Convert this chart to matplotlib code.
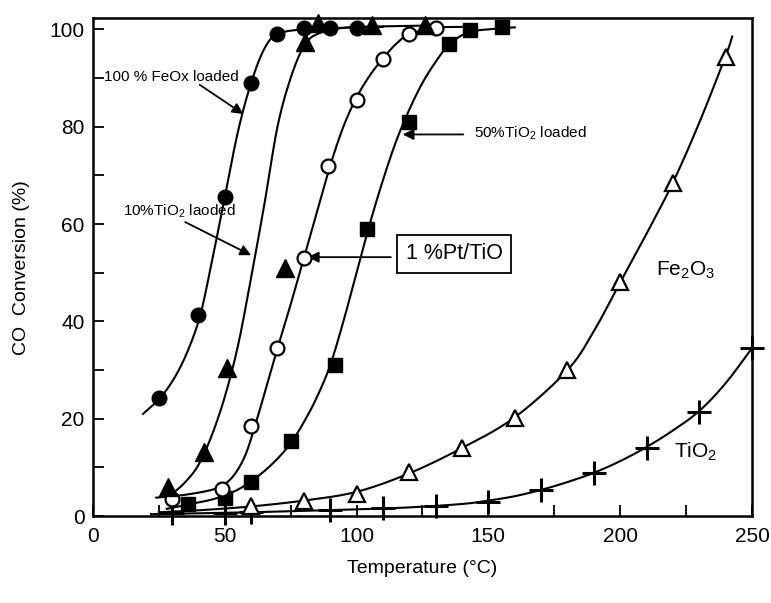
import numpy as np
import matplotlib
matplotlib.use('Agg')
import matplotlib.pyplot as plt
from matplotlib.ticker import MultipleLocator

plt.rcParams['font.family'] = ['Liberation Sans', 'DejaVu Sans']
plt.rcParams['mathtext.fontset'] = 'custom'
plt.rcParams['mathtext.rm'] = 'Liberation Sans'
plt.rcParams['mathtext.it'] = 'Liberation Sans'

# measured points (temperature in C, CO conversion in %)
feox_t = [25, 40, 50, 60, 70, 80, 90, 100]
feox_c = [24.2, 41.3, 65.5, 89, 99, 100.3, 100.2, 100.2]

ti10_t = [28.5, 42, 51, 73, 80.5, 85.5, 106, 126]
ti10_c = [6.0, 13.1, 30.4, 51, 97.4, 101.2, 100.9, 100.9]

pt_t = [30, 49, 60, 70, 80, 89, 100, 110, 120, 130]
pt_c = [3.5, 5.5, 18.5, 34.5, 53, 72, 85.5, 94, 99, 100.3]

ti50_t = [36, 50, 60, 75, 92, 104, 120, 135, 143, 155]
ti50_c = [2.5, 3.8, 7, 15.5, 31, 59, 81, 97, 99.8, 100.4]

fe2o3_t = [60, 80, 100, 120, 140, 160, 180, 200, 220, 240]
fe2o3_c = [2.0, 3.2, 4.6, 9, 14, 20.1, 30, 48.1, 68.4, 94.3]

tio2_t = [30, 50, 60, 90, 110, 130, 150, 170, 190, 210, 230, 250]
tio2_c = [0.6, 0.7, 0.9, 1.2, 1.6, 2.1, 2.9, 5.3, 8.8, 14, 21.4, 34.5]

# hand drawn fitted curves
feox_line_t = [19, 25.5, 31, 36, 40.7, 45, 50, 55, 60, 65, 70, 80, 95, 110]
feox_line_c = [21, 24.3, 28.5, 34, 41.3, 52, 65.5, 79, 89, 96, 99, 100, 100.3, 100.5]

ti10_line_t = [30, 35, 40, 45, 50, 55, 60, 65, 70, 75, 80, 85, 95, 110, 130]
ti10_line_c = [4.5, 7, 10.5, 16.5, 24.5, 35, 49, 64, 80, 90, 96.5, 99, 100.3, 100.6, 100.8]

pt_line_t = [24, 35, 45, 50, 54, 58, 62, 66, 70, 75, 80, 85, 90, 95, 100, 105, 110, 115, 120, 130, 140]
pt_line_c = [3.8, 4.4, 5.4, 6.6, 8.8, 12.8, 19.5, 27, 34.5, 43.5, 53, 62.5, 72, 80, 86, 90.5, 94, 97, 99, 100.3, 100.5]

ti50_line_t = [28, 36, 45, 52, 58, 64, 70, 75, 80, 85, 90, 95, 100, 105, 110, 115, 120, 125, 130, 135, 142, 150, 160]
ti50_line_c = [1.5, 2.4, 3.4, 4.7, 6.4, 8.8, 11.8, 15, 19.3, 24.5, 31, 40, 50, 60, 69, 77, 83.5, 89, 93.3, 96.8, 99.3, 100, 100.4]

fe2o3_line_t = [25, 40, 60, 80, 100, 120, 140, 160, 180, 190, 200, 210, 220, 230, 240, 242.5]
fe2o3_line_c = [0.8, 1.2, 2, 3.2, 5, 8.8, 14, 20.3, 30, 38, 48, 58, 68.5, 80.8, 94.5, 98.5]

tio2_line_t = [22, 40, 60, 80, 100, 120, 140, 150, 160, 170, 180, 190, 200, 210, 220, 230, 240, 250]
tio2_line_c = [0.4, 0.6, 0.8, 1.1, 1.4, 1.8, 2.5, 3.2, 4.1, 5.4, 7, 8.9, 11.3, 14.2, 17.6, 21.6, 27.3, 34.5]


def smooth(xs, ys, n=16):
    # Catmull-Rom spline through the traced curve points, just for drawing
    p = np.column_stack([xs, ys]).astype(float)
    p = np.vstack([2 * p[0] - p[1], p, 2 * p[-1] - p[-2]])
    t = np.linspace(0, 1, n, endpoint=False)[:, None]
    out = []
    for i in range(1, len(p) - 2):
        p0, p1, p2, p3 = p[i - 1], p[i], p[i + 1], p[i + 2]
        seg = 0.5 * (2 * p1 + (-p0 + p2) * t + (2 * p0 - 5 * p1 + 4 * p2 - p3) * t ** 2
                     + (-p0 + 3 * p1 - 3 * p2 + p3) * t ** 3)
        out.append(seg)
    out.append(p[-2][None, :])
    out = np.vstack(out)
    return out[:, 0], out[:, 1]


fig = plt.figure(figsize=(7.71, 6.03), dpi=100)
ax = fig.add_axes([0.1206, 0.144, 0.8547, 0.826])

for lt, lc in [(feox_line_t, feox_line_c), (ti10_line_t, ti10_line_c),
               (pt_line_t, pt_line_c), (ti50_line_t, ti50_line_c),
               (fe2o3_line_t, fe2o3_line_c), (tio2_line_t, tio2_line_c)]:
    sx, sy = smooth(lt, lc)
    ax.plot(sx, sy, color='black', lw=1.5, zorder=2, clip_on=False)

mk = dict(linestyle='none', color='black', clip_on=False, zorder=4)
ax.plot(tio2_t, tio2_c, marker='+', markersize=17, markeredgewidth=2.2, **mk)
ax.plot(fe2o3_t, fe2o3_c, marker='^', markersize=12, markerfacecolor='white',
        markeredgewidth=1.6, **mk)
ax.plot(ti50_t, ti50_c, marker='s', markersize=9.5, **mk)
ax.plot(pt_t, pt_c, marker='o', markersize=10, markerfacecolor='white',
        markeredgewidth=1.6, **mk)
ax.plot(ti10_t, ti10_c, marker='^', markersize=12.5, **mk)
ax.plot(feox_t, feox_c, marker='o', markersize=10.5, **mk)

ax.set_xlim(0, 250)
ax.set_ylim(0, 102.3)
ax.xaxis.set_major_locator(MultipleLocator(50))
ax.xaxis.set_minor_locator(MultipleLocator(25))
ax.yaxis.set_major_locator(MultipleLocator(20))
ax.yaxis.set_minor_locator(MultipleLocator(10))
ax.tick_params(which='both', direction='in', length=8, width=1.3, labelsize=15)
ax.tick_params(axis='x', pad=8)
ax.tick_params(axis='y', pad=6)
for s in ax.spines.values():
    s.set_linewidth(1.8)

ax.set_xlabel('Temperature (\u00b0C)', fontsize=14, labelpad=10)
ax.set_ylabel('CO  Conversion (%)', fontsize=14, labelpad=14)

arrow = dict(arrowstyle='-|>', color='black', lw=1.3, mutation_scale=16, shrinkA=0, shrinkB=0)

ax.text(4, 90.2, '100 % FeOx loaded', fontsize=11, va='center', ha='left', zorder=5)
ax.annotate('', xy=(57, 82.6), xytext=(40.5, 88.6), arrowprops=arrow)

ax.text(11.5, 62.6, '10%TiO$_2$ laoded', fontsize=11, va='center', ha='left')
ax.annotate('', xy=(60, 53.6), xytext=(35, 60.4), arrowprops=arrow)

ax.text(144.5, 78.6, '50%TiO$_2$ loaded', fontsize=11, va='center', ha='left')
ax.annotate('', xy=(117.5, 78.4), xytext=(140.5, 78.4), arrowprops=arrow)

ax.text(137, 53.9, '1 %Pt/TiO', fontsize=15.5, va='center', ha='center',
        bbox=dict(boxstyle='square,pad=0.4', facecolor='white', edgecolor='black', lw=1.3))
ax.annotate('', xy=(81.5, 53.2), xytext=(113, 53.2), arrowprops=arrow)

ax.text(213.5, 50.5, 'Fe$_2$O$_3$', fontsize=15, va='center', ha='left')
ax.text(220.5, 13.3, 'TiO$_2$', fontsize=15, va='center', ha='left')

fig.savefig('out.png', dpi=100)
